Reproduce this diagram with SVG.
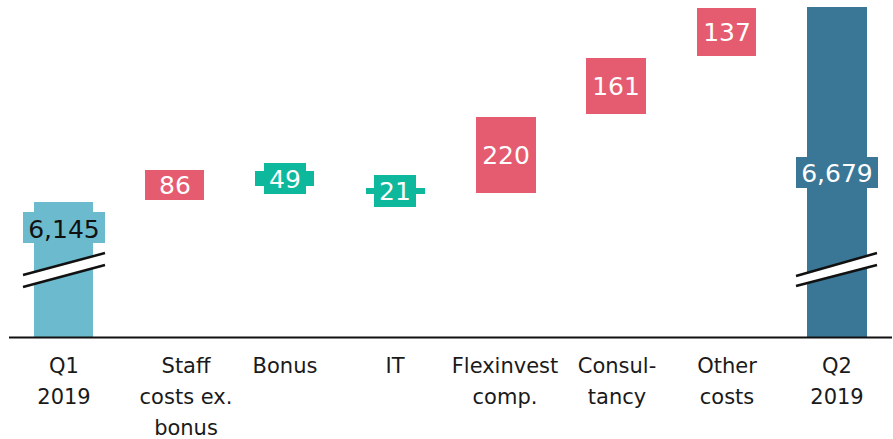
<svg xmlns="http://www.w3.org/2000/svg" width="893" height="439" viewBox="0 0 893 439">
<style>
.v{font-family:"DejaVu Sans","Liberation Sans",sans-serif;font-size:25px;text-anchor:middle}
.ax{font-family:"DejaVu Sans","Liberation Sans",sans-serif;font-size:21px;text-anchor:middle;fill:#1a1a1a}
.red{fill:#E55B6F}
.grn{fill:#0DB89C}
.gap{fill:#fff}
.bl{stroke:#111;stroke-width:2.5}
</style>
<rect width="893" height="439" fill="#fff"/>
<g id="q1">
<rect x="34" y="202" width="59" height="135" fill="#6CBACD"/>
<rect x="23" y="212" width="82" height="31" fill="#6CBACD"/>
<text class="v" x="64" y="238" fill="#111">6,145</text>
<polygon class="gap" points="23,275 105,253 105,265 23,287"/>
<line class="bl" x1="23" y1="275" x2="105" y2="253"/>
<line class="bl" x1="23" y1="287" x2="105" y2="265"/>
</g>
<g id="staff">
<rect class="red" x="145" y="170" width="59" height="30"/>
<text class="v" x="175" y="194" fill="#fff">86</text>
</g>
<g id="bonus">
<rect class="grn" x="255" y="171" width="59" height="15"/>
<rect class="grn" x="264" y="163" width="42" height="31"/>
<text class="v" x="285" y="188" fill="#fff">49</text>
</g>
<g id="it">
<rect class="grn" x="366" y="188" width="59" height="6"/>
<rect class="grn" x="374" y="175" width="42" height="32"/>
<text class="v" x="395" y="200" fill="#fff">21</text>
</g>
<g id="flexinvest">
<rect class="red" x="476" y="117" width="60" height="76"/>
<text class="v" x="506" y="164" fill="#fff">220</text>
</g>
<g id="consultancy">
<rect class="red" x="586" y="58" width="60" height="56"/>
<text class="v" x="616" y="95" fill="#fff">161</text>
</g>
<g id="other">
<rect class="red" x="697" y="8" width="59" height="48"/>
<text class="v" x="727" y="41" fill="#fff">137</text>
</g>
<g id="q2">
<rect x="807" y="7" width="60" height="330" fill="#3A7797"/>
<rect x="796" y="157" width="82" height="31" fill="#3A7797"/>
<text class="v" x="837" y="182" fill="#fff">6,679</text>
<polygon class="gap" points="796,276 877,253 877,265 796,286"/>
<line class="bl" x1="796" y1="276" x2="877" y2="253"/>
<line class="bl" x1="796" y1="286" x2="877" y2="265"/>
</g>
<g id="axis">
<line x1="9" y1="337.5" x2="892" y2="337.5" stroke="#111" stroke-width="2"/>
</g>
<g id="labels">
<text class="ax" x="64" y="373">Q1</text><text class="ax" x="64" y="404">2019</text>
<text class="ax" x="186" y="373">Staff</text><text class="ax" x="186" y="404">costs ex.</text><text class="ax" x="186" y="435">bonus</text>
<text class="ax" x="285" y="373">Bonus</text>
<text class="ax" x="395" y="373">IT</text>
<text class="ax" x="505" y="373">Flexinvest</text><text class="ax" x="505" y="404">comp.</text>
<text class="ax" x="617" y="373">Consul-</text><text class="ax" x="617" y="404">tancy</text>
<text class="ax" x="727" y="373">Other</text><text class="ax" x="727" y="404">costs</text>
<text class="ax" x="837" y="373">Q2</text><text class="ax" x="837" y="404">2019</text>
</g>
</svg>
